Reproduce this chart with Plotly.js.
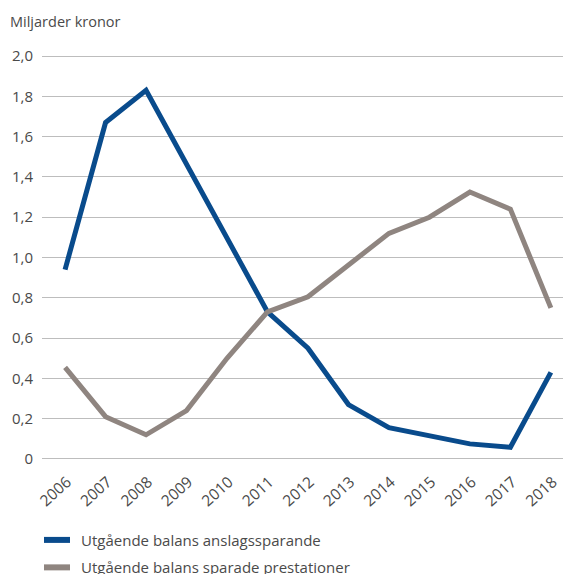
<!DOCTYPE html>
<html>
<head>
<meta charset="utf-8">
<script src="https://cdn.plot.ly/plotly-3.0.1.min.js"></script>
<style>html,body{margin:0;padding:0;background:#fff;}#chart{width:563px;height:574px;}</style>
</head>
<body>
<div id="chart"></div>
<script>
var years = ['2006','2007','2008','2009','2010','2011','2012','2013','2014','2015','2016','2017','2018'];
var anslagssparande = [0.94, 1.67, 1.83, 1.46, 1.10, 0.73, 0.55, 0.27, 0.155, 0.115, 0.075, 0.058, 0.43];
var sparadePrestationer = [0.455, 0.21, 0.12, 0.24, 0.50, 0.73, 0.805, 0.96, 1.12, 1.20, 1.325, 1.24, 0.75];
var yTickVals = [0, 0.2, 0.4, 0.6, 0.8, 1.0, 1.2, 1.4, 1.6, 1.8, 2.0];
var yTickText = ['0', '0,2', '0,4', '0,6', '0,8', '1,0', '1,2', '1,4', '1,6', '1,8', '2,0'];
var seriesNames = ['Utgående balans anslagssparande', 'Utgående balans sparade prestationer'];
var seriesColors = ['#094b8c', '#8f8580'];
var yUnit = 'Miljarder kronor';

var font = '"Open Sans", Lato, sans-serif';
var textColor = '#4a4a4a';
var W = 563, H = 574, ML = 42, MT = 53.5, MB = 113;
var traces = [
  {x: years, y: anslagssparande, name: seriesNames[0], type: 'scatter', mode: 'lines',
   line: {color: seriesColors[0], width: 5}},
  {x: years, y: sparadePrestationer, name: seriesNames[1], type: 'scatter', mode: 'lines',
   line: {color: seriesColors[1], width: 5}}
];

// manual legend below the x labels
var legendY = [540, 567.5];
var shapes = [], annotations = [];
function px2x(p) { return (p - ML) / (W - ML); }
function px2y(p) { return (H - p - MB) / (H - MT - MB); }
seriesNames.forEach(function (nm, i) {
  shapes.push({type: 'line', xref: 'paper', yref: 'paper', x0: px2x(44), x1: px2x(70),
               y0: px2y(legendY[i]), y1: px2y(legendY[i]),
               line: {color: seriesColors[i], width: 6}, layer: 'above'});
  annotations.push({text: nm, xref: 'paper', yref: 'paper', x: px2x(79), xanchor: 'left',
                    y: px2y(legendY[i]), yanchor: 'middle', showarrow: false,
                    font: {size: 15, color: textColor, family: font}});
});

var layout = {
  width: W, height: H,
  margin: {l: ML, r: 0, t: MT, b: MB},
  paper_bgcolor: '#fff', plot_bgcolor: '#fff',
  font: {family: font, color: textColor, size: 15},
  title: {text: yUnit, x: 10/W, xanchor: 'left', xref: 'container', y: 1 - 22/H, yanchor: 'middle', yref: 'container',
          font: {family: font, size: 14.5, color: textColor}},
  xaxis: {type: 'category', range: [-0.57, 12.3], showgrid: false, zeroline: false, showline: false,
          tickangle: -42, tickfont: {size: 15.5, color: textColor}, ticks: '', ticklabelstandoff: 8, ticklabelshift: 2},
  yaxis: {range: [-0.01, 2.01], tickvals: yTickVals, ticktext: yTickText, showgrid: true, gridcolor: '#bdbdbd', gridwidth: 1,
          zeroline: false, showline: false, ticks: '', ticklabelstandoff: 8, tickfont: {size: 15, color: textColor}},
  showlegend: false,
  shapes: shapes,
  annotations: annotations
};
Plotly.newPlot('chart', traces, layout, {displayModeBar: false, staticPlot: true});
</script>
</body>
</html>
